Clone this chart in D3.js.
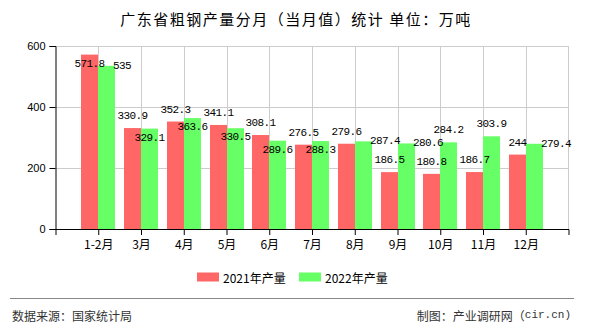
<!DOCTYPE html>
<html>
<head>
<meta charset="utf-8">
<script src="https://cdn.jsdelivr.net/npm/d3@7/dist/d3.min.js"></script>
<style>
  html, body { margin: 0; padding: 0; background: #fff; }
  svg { display: block; }
</style>
</head>
<body>
<svg id="chart" width="590" height="330"></svg>
<script>
const categories = ["1-2月","3月","4月","5月","6月","7月","8月","9月","10月","11月","12月"];
const values2021 = [571.8, 330.9, 352.3, 341.1, 308.1, 276.5, 279.6, 186.5, 180.8, 186.7, 244];
const values2022 = [535, 329.1, 363.6, 330.5, 289.6, 288.3, 287.4, 280.6, 284.2, 303.9, 279.4];
const yTicks = [0, 200, 400, 600];
const seriesNames = ["2021年产量", "2022年产量"];
const seriesColors = ["#ff6666", "#66ff66"];
// label placement modes: "a" above, "i" inside, "r" to the right
const labelMode2021 = ["i","a","a","a","a","a","a","a","a","a","a"];
const labelMode2022 = ["r","i","i","i","i","i","r","r","a","a","r"];

(function () {
const svg = d3.select("#chart");
const pLeft = 55.5, pRight = 568.5, pTop = 46, pBottom = 229;
const barW = 17;

const x = d3.scalePoint().domain(categories).range([pLeft, pRight]).padding(1);
const y = d3.scaleLinear().domain([0, 600]).range([pBottom, pTop]);

// title
svg.append("text")
  .attr("x", 296).attr("y", 18)
  .attr("text-anchor", "middle").attr("dominant-baseline", "central")
  .style("font-family", "'Noto Sans CJK SC', sans-serif")
  .style("font-size", "15px").style("letter-spacing", "1.5px")
  .attr("fill", "#000")
  .text("广东省粗钢产量分月（当月值）统计 单位：万吨");

// grid
const grid = svg.append("g").attr("stroke", "#cccccc").attr("stroke-width", 1);
yTicks.filter(d => d > 0).forEach(t => {
  grid.append("line").attr("x1", pLeft).attr("x2", pRight)
    .attr("y1", Math.round(y(t)) + 0.5).attr("y2", Math.round(y(t)) + 0.5);
});
categories.forEach(c => {
  const cx = Math.round(x(c)) + 0.5;
  grid.append("line").attr("x1", cx).attr("x2", cx).attr("y1", pTop).attr("y2", pBottom);
});
grid.append("line").attr("x1", pRight).attr("x2", pRight).attr("y1", pTop).attr("y2", pBottom);

// bars
const barsG = svg.append("g");
[values2021, values2022].forEach((vals, si) => {
  barsG.selectAll(null).data(vals).enter().append("rect")
    .attr("x", (d, i) => Math.round(x(categories[i])) + (si === 0 ? -barW : 0))
    .attr("y", d => y(d))
    .attr("width", barW)
    .attr("height", d => pBottom - y(d))
    .attr("fill", seriesColors[si]);
});

// axes
const yAxis = d3.axisLeft(y).tickValues(yTicks).tickSize(6).tickPadding(4);
const gy = svg.append("g").attr("transform", `translate(${pLeft},0)`).call(yAxis);
gy.select(".domain").attr("stroke", "#000");
gy.selectAll(".tick line").attr("stroke", "#000");
gy.selectAll(".tick text")
  .style("font-family", "'Liberation Sans', Arial, sans-serif")
  .style("font-size", "11px").attr("fill", "#000");

const xAxis = d3.axisBottom(x).tickSize(6).tickSizeOuter(6).tickPadding(5);
const gx = svg.append("g").attr("transform", `translate(0,${pBottom})`).call(xAxis);
gx.select(".domain").attr("stroke", "#000");
gx.selectAll(".tick line").attr("stroke", "#000");
gx.selectAll(".tick text")
  .style("font-family", "'Noto Sans CJK SC', sans-serif")
  .style("font-size", "12px").attr("fill", "#000");

// value labels
const labG = svg.append("g")
  .style("font-family", "'Liberation Mono', 'DejaVu Sans Mono', monospace")
  .style("font-size", "11px").style("letter-spacing", "-0.6px");
[[values2021, labelMode2021, 0], [values2022, labelMode2022, 1]].forEach(([vals, modes, si]) => {
  vals.forEach((v, i) => {
    const bx = Math.round(x(categories[i])) + (si === 0 ? -barW : 0);
    const cx = bx + barW / 2;
    const ty = y(v);
    const m = modes[i];
    let tx = cx, yy = ty - 12, anchor = "middle";
    if (m === "i") { yy = ty + 9; }
    if (m === "r") { tx = bx + barW - 2; yy = ty; anchor = "start"; }
    labG.append("text")
      .attr("x", tx).attr("y", yy)
      .attr("text-anchor", anchor).attr("dominant-baseline", "central")
      .attr("fill", "#000")
      .text(String(v));
  });
});

// legend
const leg = svg.append("g");
const legX = [197, 299];
seriesNames.forEach((n, i) => {
  leg.append("rect").attr("x", legX[i]).attr("y", 272.5).attr("width", 22).attr("height", 9)
    .attr("fill", seriesColors[i]);
  leg.append("text").attr("x", legX[i] + 26).attr("y", 277)
    .attr("dominant-baseline", "central")
    .style("font-family", "'Noto Sans CJK SC', sans-serif")
    .style("font-size", "12px").attr("fill", "#000")
    .text(n);
});

// separator & footer
svg.append("line").attr("x1", 10).attr("x2", 574).attr("y1", 298.5).attr("y2", 298.5)
  .attr("stroke", "#888").attr("stroke-width", 1);
svg.append("text").attr("x", 12).attr("y", 315)
  .attr("dominant-baseline", "central")
  .style("font-family", "'Noto Sans CJK SC', sans-serif")
  .style("font-size", "12px").attr("fill", "#333")
  .text("数据来源：国家统计局");
const ft = svg.append("text").attr("x", 571).attr("y", 315)
  .attr("text-anchor", "end").attr("dominant-baseline", "central")
  .style("font-family", "'Noto Sans CJK SC', sans-serif")
  .style("font-size", "12px").attr("fill", "#333");
ft.append("tspan").text("制图：产业调研网（");
ft.append("tspan").style("font-family", "'Liberation Mono', monospace").style("font-size", "11px")
  .text("cir.cn)");
})();
</script>
</body>
</html>
